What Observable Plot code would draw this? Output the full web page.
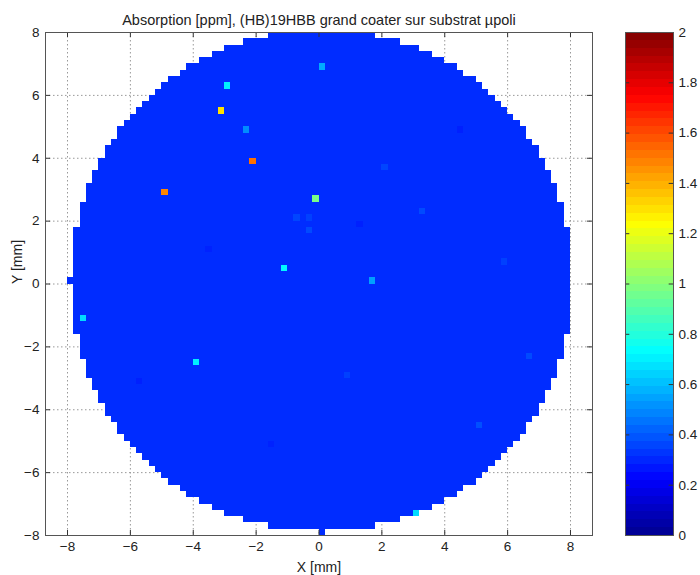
<!DOCTYPE html>
<html><head><meta charset="utf-8">
<script src="https://cdn.jsdelivr.net/npm/d3@7"></script>
<script src="https://cdn.jsdelivr.net/npm/@observablehq/plot@0.6"></script>
<style>
body{margin:0;background:#fff}
#wrap{position:relative;width:700px;height:575px;overflow:hidden}
#main{position:absolute;left:0;top:0}
#bar{position:absolute;left:600px;top:0}
</style>
</head><body><div id="wrap"><div id="main"></div><div id="bar"></div></div>
<script>
// ---- text ----
const title = "Absorption [ppm], (HB)19HBB grand coater sur substrat µpoli";
const xLabel = "X [mm]";
const yLabel = "Y [mm]";
// ---- ticks ----
const axisTicks = [-8, -6, -4, -2, 0, 2, 4, 6, 8];
const colorTicks = [0, 0.2, 0.4, 0.6, 0.8, 1, 1.2, 1.4, 1.6, 1.8, 2];
// ---- measurement grid (0.2 mm pitch, disk of radius 8 mm centred at 0.1,0.1) ----
const pitch = 0.2;
const diskCenterX = 0.1, diskCenterY = 0.1;
const diskRadiusSteps = 40;
// ---- values [ppm] ----
const baseline = 0.31;
// hot spots
const hotX = [-2.9, 0.1, -3.1, -2.3, -2.1, -4.9, -0.1, -1.1, 1.7, -7.5, -3.9, 3.1];
const hotY = [6.3, 6.9, 5.5, 4.9, 3.9, 2.9, 2.7, 0.5, 0.1, -1.1, -2.5, -7.3];
const hotV = [0.70, 0.56, 1.30, 0.50, 1.52, 1.48, 0.97, 0.72, 0.54, 0.66, 0.70, 0.66];
// faint variations of the background
const faintX = [3.3, 2.1, 5.1, 6.7, -0.7, -0.3, -0.3, 1.3, -5.7, 4.5, -1.5, 0.9, -3.5, 5.9];
const faintY = [2.3, 3.7, -4.5, -2.3, 2.1, 1.7, 2.1, 1.9, -3.1, 4.9, -5.1, -2.9, 1.1, 0.7];
const faintV = [0.37, 0.36, 0.38, 0.37, 0.36, 0.37, 0.35, 0.285, 0.285, 0.285, 0.29, 0.35, 0.29, 0.35];

// jet colormap stops
const jetDomain = [0, 0.222, 0.730, 1.238, 1.746, 2];
const jetRange = ["#00008f", "#0000ff", "#00ffff", "#ffff00", "#ff0000", "#800000"];
const colorOpts = {type: "linear", domain: jetDomain, range: jetRange, interpolate: "rgb", clamp: true};

// build cell table
const special = new Map();
const key = (x, y) => `${Math.round((x - diskCenterX) / pitch)},${Math.round((y - diskCenterY) / pitch)}`;
faintX.forEach((x, k) => special.set(key(x, faintY[k]), faintV[k]));
hotX.forEach((x, k) => special.set(key(x, hotY[k]), hotV[k]));
const cells = [];
const R = diskRadiusSteps;
for (let i = -R; i <= R; i++) {
  for (let j = -R; j <= R; j++) {
    if (i * i + j * j > R * R || i >= R || j >= R) continue;
    const v = special.has(`${i},${j}`) ? special.get(`${i},${j}`) : baseline;
    cells.push({x1: i * pitch, x2: (i + 1) * pitch, y1: j * pitch, y2: (j + 1) * pitch, v});
  }
}

const font = {fontFamily: "'Liberation Sans', Arial, Helvetica, sans-serif", fontSize: "13.5px", background: "white", color: "#222"};
const tk = 5 / 31.44; // inward tick length in data units

const main = Plot.plot({
  width: 610, height: 575,
  marginLeft: 45, marginRight: 18, marginTop: 32, marginBottom: 40,
  style: font,
  x: {domain: [-8.7, 8.7], ticks: axisTicks, tickSize: 0, tickPadding: 6, label: null},
  y: {domain: [-8, 8], ticks: axisTicks, tickSize: 0, tickPadding: 6, label: null},
  color: colorOpts,
  marks: [
    Plot.ruleX(axisTicks, {stroke: "#999", strokeDasharray: "1.5,2.5", strokeWidth: 1}),
    Plot.ruleY(axisTicks, {stroke: "#999", strokeDasharray: "1.5,2.5", strokeWidth: 1}),
    Plot.rect(cells, {x1: "x1", x2: "x2", y1: "y1", y2: "y2", fill: "v", shapeRendering: "crispEdges", clip: true}),
    Plot.ruleX(axisTicks, {y1: -8, y2: -8 + tk, stroke: "#333"}),
    Plot.ruleX(axisTicks, {y1: 8 - tk, y2: 8, stroke: "#333"}),
    Plot.ruleY(axisTicks, {x1: -8.7, x2: -8.7 + tk, stroke: "#333"}),
    Plot.ruleY(axisTicks, {x1: 8.7 - tk, x2: 8.7, stroke: "#333"}),
    Plot.frame({stroke: "#555"}),
    Plot.text([title], {frameAnchor: "top", dy: -18, fontSize: 14.5, fill: "#222"}),
    Plot.text([xLabel], {frameAnchor: "bottom", dy: 32, fontSize: 14, lineAnchor: "middle", fill: "#222"}),
    Plot.text([yLabel], {frameAnchor: "left", dx: -28, rotate: -90, fontSize: 14, fill: "#222"})
  ]
});
document.getElementById("main").appendChild(main);

const bands = d3.range(64).map(k => ({y1: k * 2 / 64, y2: (k + 1) * 2 / 64, v: (k + 0.5) * 2 / 64}));
const bar = Plot.plot({
  width: 100, height: 575,
  marginLeft: 25, marginRight: 27, marginTop: 32, marginBottom: 40,
  style: font,
  x: {domain: [0, 1], axis: null},
  y: {domain: [0, 2], ticks: colorTicks, tickSize: 0, tickPadding: 5, axis: "right", label: null,
      tickFormat: d => String(+d.toFixed(1))},
  color: colorOpts,
  marks: [
    Plot.rect(bands, {x1: 0, x2: 1, y1: "y1", y2: "y2", fill: "v", shapeRendering: "crispEdges"}),
    Plot.ruleY(colorTicks, {x1: 0, x2: 0.09, stroke: "#333"}),
    Plot.ruleY(colorTicks, {x1: 0.91, x2: 1, stroke: "#333"}),
    Plot.frame({stroke: "#555"})
  ]
});
document.getElementById("bar").appendChild(bar);
</script>
</body></html>
